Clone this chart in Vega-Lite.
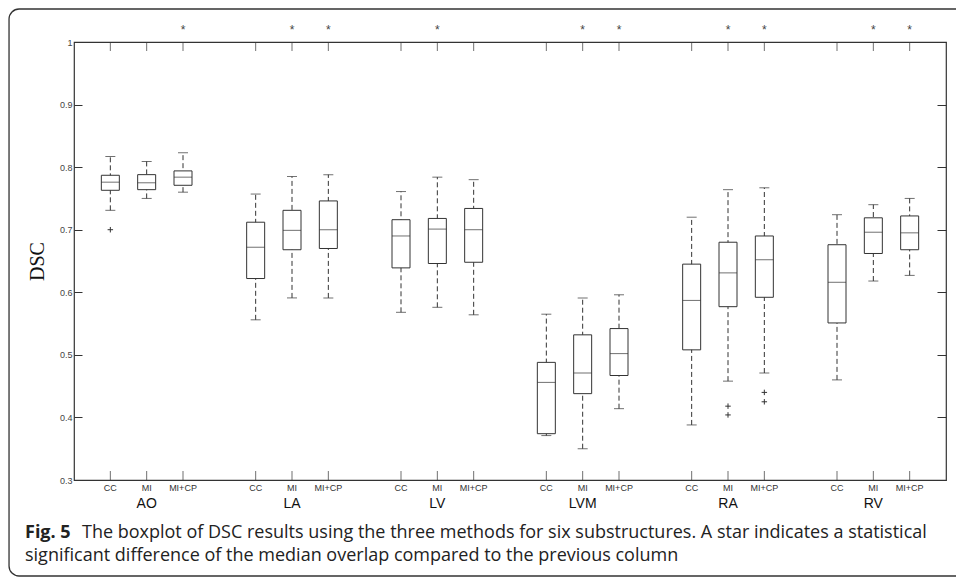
{
  "$schema": "https://vega.github.io/schema/vega-lite/v6.json",
  "width": 872,
  "height": 438,
  "autosize": {"type": "none"},
  "padding": {"left": 74, "top": 42, "right": 10, "bottom": 98},
  "background": "white",
  "config": {
    "view": {"stroke": "#333", "strokeWidth": 1.2},
    "axis": {"grid": false, "domain": false, "labelFont": "Liberation Sans", "labelColor": "#444", "tickColor": "#333"}
  },
  "title": {
    "text": "Fig. 5",
    "subtitle": ["\u200b\u2003\u2003\u2003\u2009The boxplot of DSC results using the three methods for six substructures. A star indicates a statistical", "significant difference of the median overlap compared to the previous column"],
    "orient": "bottom",
    "anchor": "start",
    "frame": "group",
    "dx": -49,
    "offset": -53,
    "font": "Open Sans",
    "fontSize": 18,
    "fontWeight": "bold",
    "color": "#222",
    "subtitleFont": "Open Sans",
    "subtitleFontSize": 18,
    "subtitleColor": "#222",
    "subtitlePadding": -18,
    "subtitleLineHeight": 23
  },
  "datasets": {
    "boxes": [
      {"group": "AO", "method": "CC", "lower": 0.731, "q1": 0.763, "median": 0.776, "q3": 0.787, "upper": 0.817, "sig": false},
      {"group": "AO", "method": "MI", "lower": 0.750, "q1": 0.764, "median": 0.775, "q3": 0.788, "upper": 0.809, "sig": false},
      {"group": "AO", "method": "MI+CP", "lower": 0.760, "q1": 0.771, "median": 0.784, "q3": 0.794, "upper": 0.823, "sig": true},
      {"group": "LA", "method": "CC", "lower": 0.556, "q1": 0.622, "median": 0.672, "q3": 0.712, "upper": 0.757, "sig": false},
      {"group": "LA", "method": "MI", "lower": 0.591, "q1": 0.668, "median": 0.699, "q3": 0.731, "upper": 0.785, "sig": true},
      {"group": "LA", "method": "MI+CP", "lower": 0.591, "q1": 0.670, "median": 0.700, "q3": 0.746, "upper": 0.788, "sig": true},
      {"group": "LV", "method": "CC", "lower": 0.568, "q1": 0.639, "median": 0.690, "q3": 0.716, "upper": 0.761, "sig": false},
      {"group": "LV", "method": "MI", "lower": 0.576, "q1": 0.646, "median": 0.701, "q3": 0.718, "upper": 0.784, "sig": true},
      {"group": "LV", "method": "MI+CP", "lower": 0.564, "q1": 0.648, "median": 0.700, "q3": 0.734, "upper": 0.780, "sig": false},
      {"group": "LVM", "method": "CC", "lower": 0.371, "q1": 0.374, "median": 0.456, "q3": 0.488, "upper": 0.565, "sig": false},
      {"group": "LVM", "method": "MI", "lower": 0.350, "q1": 0.438, "median": 0.471, "q3": 0.532, "upper": 0.591, "sig": true},
      {"group": "LVM", "method": "MI+CP", "lower": 0.414, "q1": 0.467, "median": 0.502, "q3": 0.542, "upper": 0.596, "sig": true},
      {"group": "RA", "method": "CC", "lower": 0.388, "q1": 0.508, "median": 0.587, "q3": 0.645, "upper": 0.720, "sig": false},
      {"group": "RA", "method": "MI", "lower": 0.458, "q1": 0.577, "median": 0.631, "q3": 0.680, "upper": 0.764, "sig": true},
      {"group": "RA", "method": "MI+CP", "lower": 0.471, "q1": 0.592, "median": 0.652, "q3": 0.690, "upper": 0.767, "sig": true},
      {"group": "RV", "method": "CC", "lower": 0.460, "q1": 0.551, "median": 0.616, "q3": 0.676, "upper": 0.724, "sig": false},
      {"group": "RV", "method": "MI", "lower": 0.618, "q1": 0.662, "median": 0.696, "q3": 0.719, "upper": 0.740, "sig": true},
      {"group": "RV", "method": "MI+CP", "lower": 0.627, "q1": 0.668, "median": 0.695, "q3": 0.722, "upper": 0.750, "sig": true}
    ],
    "outliers": [
      {"group": "AO", "method": "CC", "value": 0.700},
      {"group": "RA", "method": "MI", "value": 0.418},
      {"group": "RA", "method": "MI", "value": 0.404},
      {"group": "RA", "method": "MI+CP", "value": 0.440},
      {"group": "RA", "method": "MI+CP", "value": 0.425}
    ]
  },
  "resolve": {"scale": {"x": "independent"}},
  "layer": [
    {
      "data": {"values": [{}]},
      "mark": {"type": "rect", "fill": null, "stroke": "#333", "strokeWidth": 1.3, "cornerRadiusTopLeft": 10, "cornerRadiusBottomLeft": 10},
      "encoding": {
        "x": {"datum": -0.0745, "type": "quantitative", "scale": {"domain": [0, 1]}, "axis": null},
        "x2": {"datum": 1.05},
        "y": {"datum": 1.0527, "type": "quantitative", "scale": {"domain": [0.3, 1], "nice": false, "zero": false}, "axis": null},
        "y2": {"datum": 0.1466}
      }
    },
    {
      "data": {"name": "boxes"},
      "resolve": {"axis": {"y": "independent"}},
      "encoding": {
        "x": {"field": "group", "type": "nominal",
              "scale": {"domain": ["AO", "LA", "LV", "LVM", "RA", "RV"], "paddingInner": 0, "paddingOuter": 0},
              "axis": {"title": null, "ticks": false, "labelAngle": 0, "labelPadding": 16, "labelFontSize": 14, "labelColor": "#111", "labelFont": "Liberation Sans"}},
        "xOffset": {"field": "method", "type": "nominal", "scale": {"domain": ["CC", "MI", "MI+CP"], "paddingInner": 0, "paddingOuter": 0.5}}
      },
      "layer": [
        {
          "mark": {"type": "rule", "stroke": "#333", "strokeWidth": 1, "strokeDash": [5, 3]},
          "encoding": {
            "y": {"field": "lower", "type": "quantitative", "scale": {"domain": [0.3, 1], "nice": false, "zero": false},
                  "axis": {"orient": "left", "values": [0.3, 0.4, 0.5, 0.6, 0.7, 0.8, 0.9, 1], "format": "~g", "tickSize": -8, "labelPadding": 10, "labelFontSize": 9,
                           "title": "DSC", "titleFont": "Liberation Serif", "titleFontSize": 20, "titleFontWeight": "normal", "titleColor": "#111", "titlePadding": 12}},
            "y2": {"field": "upper"}
          }
        },
        {
          "mark": {"type": "bar", "size": 18, "fill": "white", "stroke": "#333", "strokeWidth": 1},
          "encoding": {
            "y": {"field": "q1", "type": "quantitative",
                  "axis": {"orient": "right", "values": [0.3, 0.4, 0.5, 0.6, 0.7, 0.8, 0.9, 1], "labels": false, "tickSize": -9, "title": null}},
            "y2": {"field": "q3"}
          }
        },
        {
          "mark": {"type": "tick", "size": 18, "thickness": 1, "color": "#333"},
          "encoding": {"y": {"field": "median", "type": "quantitative", "axis": null}}
        },
        {
          "mark": {"type": "tick", "size": 10, "thickness": 1, "color": "#333"},
          "encoding": {"y": {"field": "lower", "type": "quantitative", "axis": null}}
        },
        {
          "mark": {"type": "tick", "size": 10, "thickness": 1, "color": "#333"},
          "encoding": {"y": {"field": "upper", "type": "quantitative", "axis": null}}
        },
        {
          "mark": {"type": "tick", "orient": "vertical", "size": 9, "thickness": 1, "color": "#333", "yOffset": -4.5},
          "encoding": {"y": {"datum": 0.3, "type": "quantitative", "axis": null}}
        },
        {
          "mark": {"type": "tick", "orient": "vertical", "size": 9, "thickness": 1, "color": "#333", "yOffset": 4.5},
          "encoding": {"y": {"datum": 1, "type": "quantitative", "axis": null}}
        },
        {
          "mark": {"type": "text", "font": "Liberation Sans", "fontSize": 9, "color": "#333", "baseline": "middle", "dy": 8},
          "encoding": {"y": {"datum": 0.3, "type": "quantitative", "axis": null}, "text": {"field": "method"}}
        },
        {
          "transform": [{"filter": "datum.sig"}],
          "mark": {"type": "text", "font": "Liberation Sans", "fontSize": 12, "color": "#444", "baseline": "middle", "dy": -12},
          "encoding": {"y": {"datum": 1, "type": "quantitative", "axis": null}, "text": {"value": "*"}}
        },
        {
          "data": {"name": "outliers"},
          "mark": {"type": "point", "shape": "M-1,0L1,0M0,-1L0,1", "size": 30, "filled": false, "stroke": "#333", "strokeWidth": 1, "opacity": 1},
          "encoding": {"y": {"field": "value", "type": "quantitative", "axis": null}}
        }
      ]
    }
  ]
}
